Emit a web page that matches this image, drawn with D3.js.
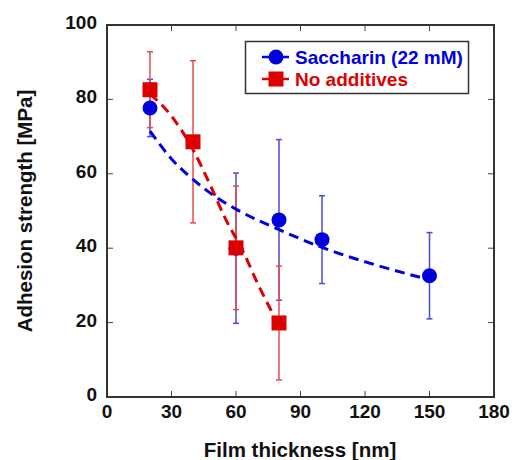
<!DOCTYPE html>
<html lang="en">
  <head>
    <meta charset="UTF-8" />
    <title>Adhesion strength vs film thickness</title>
    <script src="https://d3js.org/d3.v7.min.js"></script>
    <style>
      body {
        margin: 0;
        background: #fff;
      }
      svg text {
        font-family: "Liberation Sans", Arial, sans-serif;
        font-weight: bold;
      }
    </style>
  </head>
  <body>
    <svg id="chart" width="514" height="460"></svg>
    <script>
      // measured points (thickness nm, strength MPa, error +/-)
      const saccharin = [
        { x: 20, y: 77.7, err: 7.7 },
        { x: 60, y: 40, err: 20.2 },
        { x: 80, y: 47.6, err: 21.6 },
        { x: 100, y: 42.3, err: 11.8 },
        { x: 150, y: 32.6, err: 11.6 },
      ];
      const noAdditives = [
        { x: 20, y: 82.6, err: 10.2 },
        { x: 40, y: 68.6, err: 21.8 },
        { x: 60, y: 40.1, err: 16.6 },
        { x: 80, y: 19.9, err: 15.3 },
      ];
      // dashed fit curves
      const saccharinFit = [
        [20, 71.5], [30, 64], [40, 58.5], [50, 54], [60, 50.5],
        [80, 45], [100, 40.2], [125, 35.5], [150, 31.5],
      ];
      const noAdditivesFit = [
        [20, 81.5], [30, 75.5], [40, 66.5], [48, 57], [55, 48],
        [63, 39.5], [70, 30.6], [77, 22.5],
      ];
      const xTicks = [0, 30, 60, 90, 120, 150, 180];
      const yTicks = [0, 20, 40, 60, 80, 100];

      const blue = "#0000dd";
      const red = "#dd0000";
      const blueErr = "#4b4bd6";
      const redErr = "#e84a4a";

      const margin = { left: 107, right: 20, top: 25, bottom: 63 };
      const width = 514, height = 460;

      const svg = d3.select("#chart");

      const x = d3.scaleLinear().domain([0, 180]).range([margin.left, width - margin.right]);
      const y = d3.scaleLinear().domain([0, 100]).range([height - margin.bottom, margin.top]);

      // inward ticks on all four sides
      const tickLen = 6;
      const ticks = svg.append("g").attr("stroke", "#444").attr("stroke-width", 1);
      xTicks.slice(1, -1).forEach((t) => {
        ticks.append("line").attr("x1", x(t)).attr("x2", x(t))
          .attr("y1", y(0)).attr("y2", y(0) - tickLen);
        ticks.append("line").attr("x1", x(t)).attr("x2", x(t))
          .attr("y1", y(100)).attr("y2", y(100) + tickLen);
      });
      yTicks.slice(1, -1).forEach((t) => {
        ticks.append("line").attr("x1", x(0)).attr("x2", x(0) + tickLen)
          .attr("y1", y(t)).attr("y2", y(t));
        ticks.append("line").attr("x1", x(180)).attr("x2", x(180) - tickLen)
          .attr("y1", y(t)).attr("y2", y(t));
      });

      // tick labels
      svg.append("g").selectAll("text").data(xTicks).join("text")
        .attr("x", (d) => x(d)).attr("y", y(0) + 21)
        .attr("text-anchor", "middle").attr("font-size", 19).attr("fill", "#111")
        .text((d) => d);
      svg.append("g").selectAll("text").data(yTicks).join("text")
        .attr("x", x(0) - 10).attr("y", (d) => y(d) + 4)
        .attr("text-anchor", "end").attr("font-size", 19).attr("fill", "#111")
        .text((d) => d);

      // axis titles
      svg.append("text")
        .attr("x", 300).attr("y", 457)
        .attr("text-anchor", "middle").attr("font-size", 20.5).attr("fill", "#111")
        .text("Film thickness [nm]");
      svg.append("text")
        .attr("transform", `translate(32,${(y(0) + y(100)) / 2}) rotate(-90)`)
        .attr("text-anchor", "middle").attr("font-size", 20.5).attr("fill", "#111")
        .text("Adhesion strength [MPa]");

      // error bars
      function errorBars(data, color) {
        const g = svg.append("g").attr("stroke", color).attr("stroke-width", 1.5);
        data.forEach((d) => {
          g.append("line").attr("x1", x(d.x)).attr("x2", x(d.x))
            .attr("y1", y(d.y - d.err)).attr("y2", y(d.y + d.err));
          [d.y - d.err, d.y + d.err].forEach((v) => {
            g.append("line").attr("x1", x(d.x) - 3).attr("x2", x(d.x) + 3)
              .attr("y1", y(v)).attr("y2", y(v));
          });
        });
      }
      errorBars(saccharin, blueErr);
      errorBars(noAdditives, redErr);

      // fit curves
      const line = d3.line().x((d) => x(d[0])).y((d) => y(d[1])).curve(d3.curveMonotoneX);
      svg.append("path").datum(saccharinFit).attr("d", line)
        .attr("fill", "none").attr("stroke", blue).attr("stroke-width", 3)
        .attr("stroke-dasharray", "10,6");
      svg.append("path").datum(noAdditivesFit).attr("d", line)
        .attr("fill", "none").attr("stroke", red).attr("stroke-width", 3)
        .attr("stroke-dasharray", "10,6");

      // markers
      svg.append("g").selectAll("circle").data(saccharin).join("circle")
        .attr("cx", (d) => x(d.x)).attr("cy", (d) => y(d.y)).attr("r", 7.5)
        .attr("fill", blue);
      svg.append("g").selectAll("rect").data(noAdditives).join("rect")
        .attr("x", (d) => x(d.x) - 7.5).attr("y", (d) => y(d.y) - 7.5)
        .attr("width", 15).attr("height", 15).attr("fill", red);

      // frame
      svg.append("rect")
        .attr("x", x(0)).attr("y", y(100))
        .attr("width", x(180) - x(0)).attr("height", y(0) - y(100))
        .attr("fill", "none").attr("stroke", "#333").attr("stroke-width", 2);

      // legend
      const lg = svg.append("g");
      lg.append("rect").attr("x", 245.5).attr("y", 41.5).attr("width", 223).attr("height", 52)
        .attr("fill", "#fff").attr("stroke", "#333").attr("stroke-width", 1.5);
      lg.append("line").attr("x1", 262).attr("x2", 289).attr("y1", 57).attr("y2", 57)
        .attr("stroke", blue).attr("stroke-width", 2.5);
      lg.append("circle").attr("cx", 276).attr("cy", 57).attr("r", 7.5).attr("fill", blue);
      lg.append("text").attr("x", 295).attr("y", 64).attr("font-size", 19).attr("fill", blue)
        .text("Saccharin (22 mM)");
      lg.append("line").attr("x1", 262).attr("x2", 289).attr("y1", 79).attr("y2", 79)
        .attr("stroke", red).attr("stroke-width", 2.5);
      lg.append("rect").attr("x", 268.5).attr("y", 71.5).attr("width", 15).attr("height", 15)
        .attr("fill", red);
      lg.append("text").attr("x", 295).attr("y", 86).attr("font-size", 19).attr("fill", red)
        .text("No additives");
    </script>
  </body>
</html>
